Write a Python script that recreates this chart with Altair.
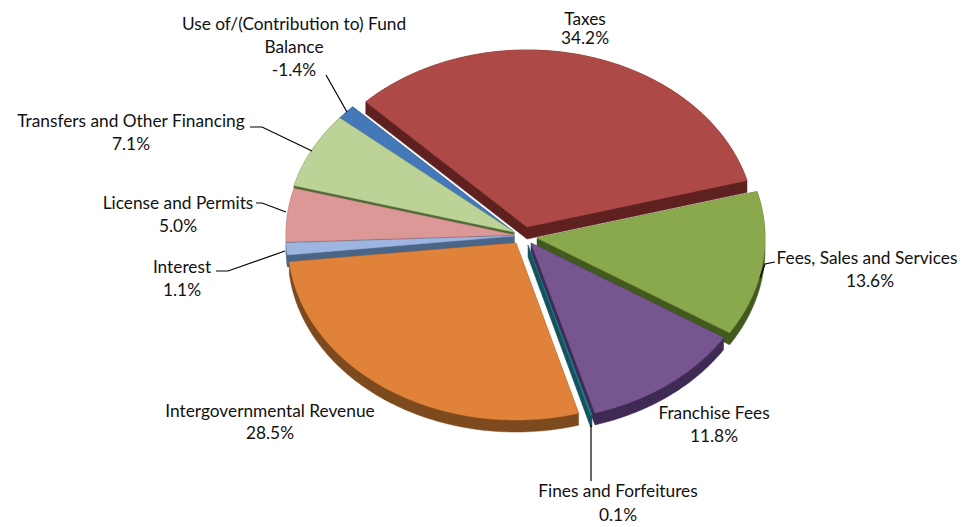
import math
import altair as alt
import pandas as pd

# Chart values
categories = ["Use of/(Contribution to) Fund Balance", "Transfers and Other Financing",
              "License and Permits", "Interest", "Taxes", "Fees, Sales and Services",
              "Franchise Fees", "Fines and Forfeitures", "Intergovernmental Revenue"]
# Share of the pie is the magnitude of each percentage, in clockwise order starting at Taxes
pie_order = ["Taxes", "Fees, Sales and Services", "Franchise Fees", "Fines and Forfeitures",
             "Intergovernmental Revenue", "Interest", "License and Permits",
             "Transfers and Other Financing", "Use of/(Contribution to) Fund Balance"]
percents = {"Taxes": 34.2, "Fees, Sales and Services": 13.6, "Franchise Fees": 11.8,
            "Fines and Forfeitures": 0.1, "Intergovernmental Revenue": 28.5, "Interest": 1.1,
            "License and Permits": 5.0, "Transfers and Other Financing": 7.1,
            "Use of/(Contribution to) Fund Balance": -1.4}

# Styles
top_colors = {"Taxes": "#AD4A47", "Fees, Sales and Services": "#8AA84C", "Franchise Fees": "#77568F",
              "Fines and Forfeitures": "#23808F", "Intergovernmental Revenue": "#E0823A", "Interest": "#9DB5E0",
              "License and Permits": "#DB9896", "Transfers and Other Financing": "#BCD296",
              "Use of/(Contribution to) Fund Balance": "#4478B8"}
wall_colors = {"Taxes": "#5E2120", "Fees, Sales and Services": "#435A1F", "Franchise Fees": "#3E2A55",
               "Fines and Forfeitures": "#14525C", "Intergovernmental Revenue": "#7D4A1D", "Interest": "#4A6588",
               "License and Permits": "#8B5553", "Transfers and Other Financing": "#4F6A36",
               "Use of/(Contribution to) Fund Balance": "#1F4A78"}
apex = {"Taxes": (527, 227), "Fees, Sales and Services": (537, 238), "Franchise Fees": (531, 243),
        "Fines and Forfeitures": (528, 245), "Intergovernmental Revenue": (516, 243), "Interest": (514, 236),
        "License and Permits": (514, 235), "Transfers and Other Financing": (514, 232),
        "Use of/(Contribution to) Fund Balance": (514, 232)}
RX, RY, DEPTH, START = 228, 177, 12, -45


def hull(points):
    pts = sorted(set(points))
    def half(seq):
        out = []
        for p in seq:
            while len(out) > 1 and (out[-1][0]-out[-2][0])*(p[1]-out[-2][1]) - (out[-1][1]-out[-2][1])*(p[0]-out[-2][0]) <= 0:
                out.pop()
            out.append(p)
        return out[:-1]
    return half(pts) + half(pts[::-1])


total = sum(abs(percents[c]) for c in pie_order)
sectors = {}
angle = START
for c in pie_order:
    span = abs(percents[c]) / total * 360
    ax, ay = apex[c]
    n = max(2, int(span))
    pts = [(ax, ay)]
    for k in range(n + 1):
        t = math.radians(angle + span * k / n)
        pts.append((ax + RX * math.sin(t), ay - RY * math.cos(t)))
    sectors[c] = pts
    angle += span

rows = []
seq = 0
for c in categories:
    top = sectors[c]
    wall = hull(top + [(x, y + DEPTH) for x, y in top])
    for part, poly, col in ((0, wall, wall_colors[c]), (1, top, top_colors[c])):
        seq += 1
        for i, (x, y) in enumerate(list(poly) + [poly[0]]):
            rows.append(dict(poly=f"{seq:02d}", i=i, x=x, y=y, col=col))

x_scale = alt.Scale(domain=[8, 958], nice=False, zero=False)
y_scale = alt.Scale(domain=[527, 8], nice=False, zero=False)

pie = alt.Chart(pd.DataFrame(rows)).mark_line(strokeWidth=0.5).encode(
    x=alt.X("x:Q", scale=x_scale, axis=None),
    y=alt.Y("y:Q", scale=y_scale, axis=None),
    detail="poly:N", order="i:Q",
    fill=alt.Fill("col:N", scale=None),
    stroke=alt.Stroke("col:N", scale=None),
)

leaders = [
    [(347, 112), (326, 75)],
    [(312, 151), (262, 127), (250, 127)],
    [(286, 212), (262, 203), (256, 203)],
    [(285, 251), (228, 271), (216, 271)],
    [(760, 278), (765, 264), (775, 262)],
    [(591, 425), (591, 481)],
]
lead_rows = [dict(l=j, i=i, x=x, y=y) for j, line in enumerate(leaders) for i, (x, y) in enumerate(line)]
lead = alt.Chart(pd.DataFrame(lead_rows)).mark_line(color="#000000", strokeWidth=1.2).encode(
    x=alt.X("x:Q", scale=x_scale, axis=None),
    y=alt.Y("y:Q", scale=y_scale, axis=None),
    detail="l:N", order="i:Q",
)

labels = [
    ("Use of/(Contribution to) Fund", 294, 25), ("Balance", 294, 48), ("-1.4%", 294, 71),
    ("Taxes", 585, 20), ("34.2%", 585, 39),
    ("Transfers and Other Financing", 131, 122), ("7.1%", 131, 145),
    ("License and Permits", 178, 204), ("5.0%", 178, 227),
    ("Interest", 182, 268), ("1.1%", 182, 291),
    ("Fees, Sales and Services", 867, 259), ("13.6%", 870, 282),
    ("Franchise Fees", 714, 414), ("11.8%", 714, 437),
    ("Fines and Forfeitures", 618, 492), ("0.1%", 618, 516),
    ("Intergovernmental Revenue", 270, 412), ("28.5%", 270, 434),
]
text = alt.Chart(pd.DataFrame(labels, columns=["t", "x", "y"])).mark_text(
    font="Lato", fontSize=17.3, color="#111111", align="center", baseline="middle"
).encode(
    x=alt.X("x:Q", scale=x_scale, axis=None),
    y=alt.Y("y:Q", scale=y_scale, axis=None),
    text="t:N",
)

chart = alt.layer(pie, lead, text).properties(width=950, height=519, padding=0, autosize="none", background="#ffffff").configure_view(stroke=None)
chart.save("out.html", embed_options={"renderer": "svg", "actions": False})
